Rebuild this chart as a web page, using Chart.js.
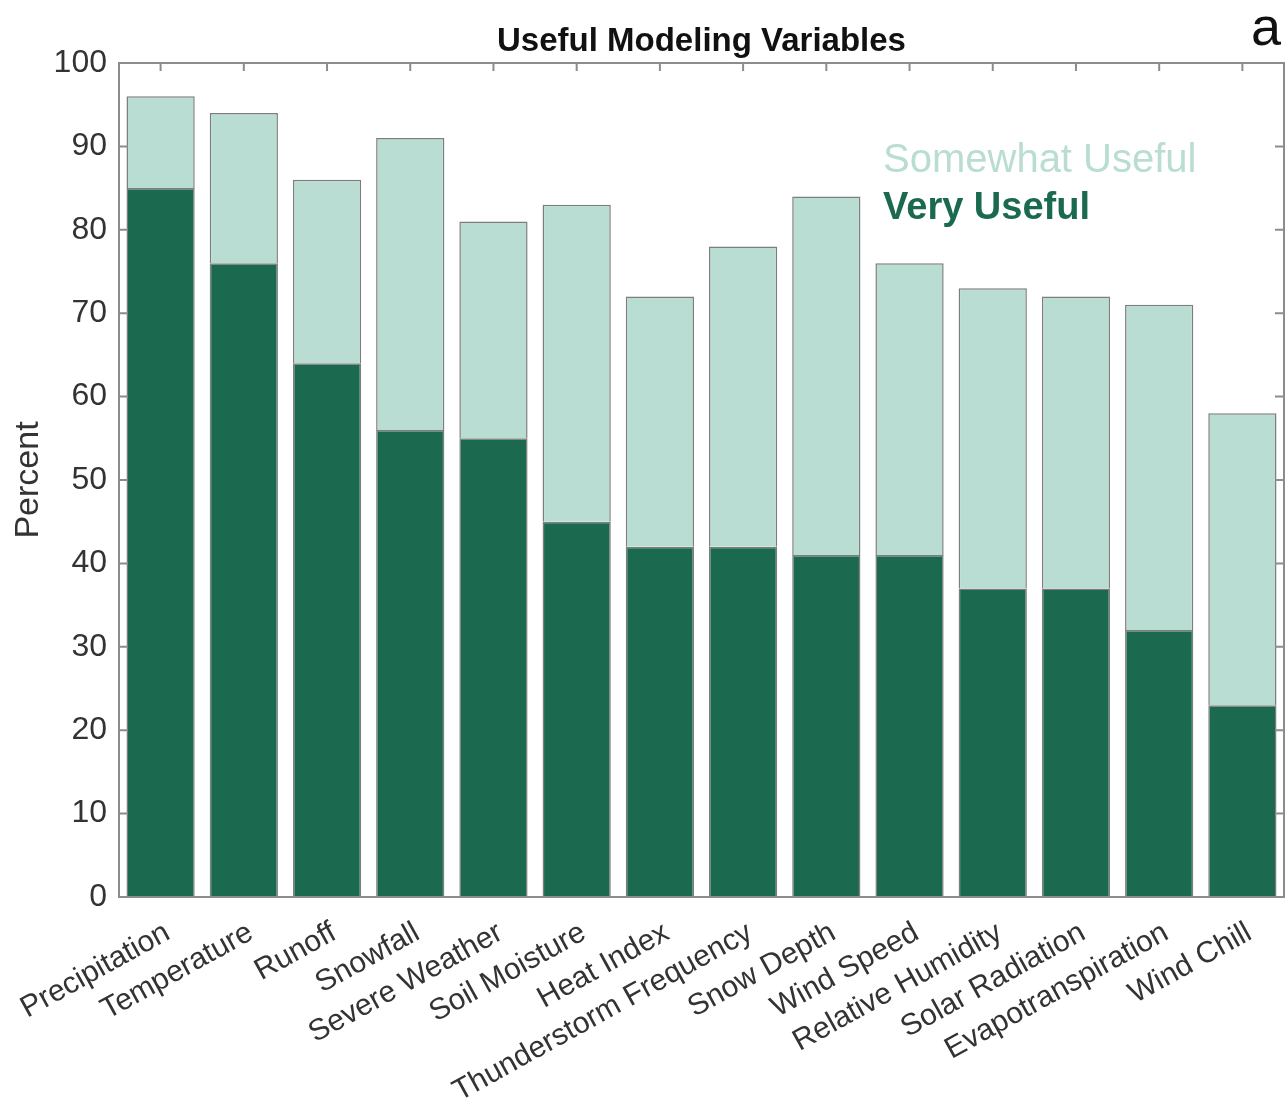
<!DOCTYPE html>
<html lang="en">
    <head>
        <meta charset="UTF-8">
        <style>
            body {
                margin: 0;
                background-color: #ffffff;
            }
            #chart-container {
                position: absolute;
                top: 0;
                left: 0;
            }
        </style>
        <title>Useful Modeling Variables</title>
    </head>
    <body>
        <div id="chart-container">
            <canvas id="myChart" width="1287" height="1118"></canvas>
        </div>
        <script src="https://cdn.jsdelivr.net/npm/chart.js"></script>
        <script>
            //data

            let categories = ['Precipitation', 'Temperature', 'Runoff', 'Snowfall', 'Severe Weather', 'Soil Moisture', 'Heat Index',
                              'Thunderstorm Frequency', 'Snow Depth', 'Wind Speed', 'Relative Humidity', 'Solar Radiation',
                              'Evapotranspiration', 'Wind Chill'];

            let veryUseful = [85, 76, 64, 56, 55, 45, 42, 42, 41, 41, 37, 37, 32, 23];          //dark part of each bar

            let somewhatUseful = [11, 18, 22, 35, 26, 38, 30, 36, 43, 35, 36, 35, 39, 35];      //light part stacked on top

            let yTicks = [0, 10, 20, 30, 40, 50, 60, 70, 80, 90, 100];

            let darkGreen = '#1b6a4f';
            let lightGreen = '#b9ddd2';
            let edgeGray = '#7d7d7d';
            let fontName = "'Liberation Sans', Arial, Helvetica, sans-serif";

            //box, inward ticks, title, legend text and panel letter
            const decorations = {
                id: 'decorations',
                afterDatasetsDraw(chart) {
                    const ctx = chart.ctx;
                    const area = chart.chartArea;
                    const x = chart.scales.x;
                    const y = chart.scales.y;
                    ctx.save();
                    ctx.strokeStyle = '#8c8c8c';
                    ctx.lineWidth = 2;
                    ctx.strokeRect(area.left, area.top, area.right - area.left, area.bottom - area.top);

                    ctx.beginPath();
                    yTicks.forEach(function (v) {
                        const py = y.getPixelForValue(v);
                        ctx.moveTo(area.left, py);
                        ctx.lineTo(area.left + 9, py);
                        ctx.moveTo(area.right, py);
                        ctx.lineTo(area.right - 9, py);
                    });
                    categories.forEach(function (c, i) {
                        const px = x.getPixelForValue(i);
                        ctx.moveTo(px, area.top);
                        ctx.lineTo(px, area.top + 8);
                    });
                    ctx.stroke();

                    ctx.fillStyle = '#111111';
                    ctx.font = 'bold 33px ' + fontName;
                    ctx.textAlign = 'center';
                    ctx.textBaseline = 'alphabetic';
                    ctx.fillText('Useful Modeling Variables', (area.left + area.right) / 2, 51);

                    ctx.font = '54px ' + fontName;
                    ctx.textAlign = 'right';
                    ctx.fillText('a', 1281, 45);

                    ctx.textAlign = 'left';
                    ctx.font = '40px ' + fontName;
                    ctx.fillStyle = lightGreen;
                    ctx.fillText('Somewhat Useful', 883, 172);
                    ctx.font = 'bold 38px ' + fontName;
                    ctx.fillStyle = darkGreen;
                    ctx.fillText('Very Useful', 883, 219);
                    ctx.restore();
                }
            };

            const data = {
                labels: categories,
                datasets: [{
                    label: 'Very Useful',
                    data: veryUseful,
                    backgroundColor: darkGreen,
                    borderColor: edgeGray,
                    borderWidth: 1.5
                }, {
                    label: 'Somewhat Useful',
                    data: somewhatUseful,
                    backgroundColor: lightGreen,
                    borderColor: edgeGray,
                    borderWidth: 1.5
                }]
            };

            const config = {
                type: 'bar',
                data,
                options: {
                    responsive: false,
                    animation: false,
                    maintainAspectRatio: false,
                    barPercentage: 0.82,
                    categoryPercentage: 1,
                    layout: {
                        padding: { top: 63, right: 3, left: 0, bottom: 0 }
                    },
                    scales: {
                        x: {
                            stacked: true,
                            grid: { display: false, drawTicks: false },
                            border: { display: false },
                            afterFit: function (scale) {
                                scale.height = 221;
                                scale.paddingLeft = 0;          //rotated labels may hang past the left edge
                                scale.paddingRight = 0;
                            },
                            ticks: {
                                autoSkip: false,
                                minRotation: 29,
                                maxRotation: 29,
                                padding: 18,
                                labelOffset: 7,
                                color: '#333333',
                                font: { family: fontName, size: 30 }
                            }
                        },
                        y: {
                            stacked: true,
                            min: 0,
                            max: 100,
                            grid: { display: false, drawTicks: false },
                            border: { display: false },
                            afterFit: function (scale) { scale.width = 119; },
                            ticks: {
                                stepSize: 10,
                                padding: 12,
                                color: '#333333',
                                font: { family: fontName, size: 32 }
                            },
                            title: {
                                display: true,
                                text: 'Percent',
                                color: '#333333',
                                padding: { top: 8, bottom: 0 },
                                font: { family: fontName, size: 34 }
                            }
                        }
                    },
                    plugins: {
                        legend: { display: false },
                        tooltip: { enabled: false }
                    }
                },
                plugins: [decorations]
            };

            const myChart = new Chart(
                document.getElementById('myChart'),
                config
            );
        </script>
    </body>
</html>
